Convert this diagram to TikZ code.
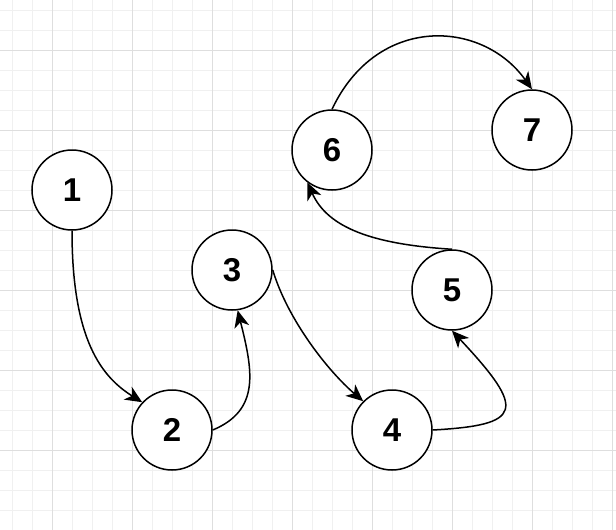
\documentclass[tikz,border=0pt]{standalone}
\usepackage{fontspec}
\setmainfont{Liberation Sans}
\usepackage{tikz}
\usetikzlibrary{arrows.meta}

\definecolor{gridminor}{RGB}{240,240,240}
\definecolor{gridmajor}{RGB}{222,222,222}

\begin{document}
\begin{tikzpicture}[x=1pt, y=-1pt, >={Stealth[length=17pt, width=15pt, inset=5pt]},
  vertex/.style={draw, circle, line width=1.5pt, minimum size=80pt, inner sep=0pt, fill=white,
    font=\bfseries\fontsize{33}{36}\selectfont},
  link/.style={->, line width=1.5pt},
  minor/.style={draw=gridminor, line width=1pt},
  major/.style={draw=gridmajor, line width=1pt}]
\useasboundingbox (0,0) rectangle (616,530);
\fill[white] (0,0) rectangle (616,530);
% ================= grid =================
\foreach \x in {12,32,...,612}{\draw[minor] (\x,0) -- (\x,530);}
\foreach \y in {10,30,...,530}{\draw[minor] (0,\y) -- (616,\y);}
\foreach \x in {52,132,...,612}{\draw[major] (\x,0) -- (\x,530);}
\foreach \y in {50,130,...,530}{\draw[major] (0,\y) -- (616,\y);}
% ================= vertices =================
\foreach \n/\x/\y in {1/72/190,2/172/430,3/232/270,4/392/430,5/452/290,6/332/150,7/532/130}{
  \node[vertex] (v\n) at (\x,\y) {\n};}
% ================= links =================
\draw[link] (v1.south) .. controls +(0,110) and +(-40,-25) .. (v2.137);
\draw[link] (v2.east) .. controls +(48,-20) and +(15,60) .. (v3.278);
\draw[link] (v3.east) .. controls +(15,50) and +(-35,-30) .. (v4.135);
\draw[link] (v4.east) .. controls +(90,-5) and +(75,80) .. (v5.south);
\draw[link] (v5.north) .. controls +(-80,-5) and +(20,45) .. (v6.233);
\draw[link] (v6.north) .. controls +(45,-95) and +(-50,-70) .. (v7.north);
\end{tikzpicture}
\end{document}
